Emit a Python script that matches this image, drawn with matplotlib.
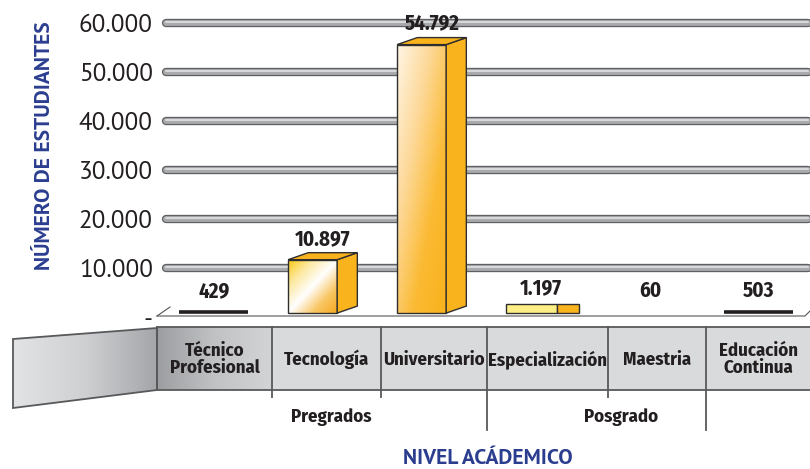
import numpy as np
import matplotlib
matplotlib.use("Agg")
import matplotlib.pyplot as plt
from matplotlib.patches import Polygon, Rectangle
from matplotlib.colors import LinearSegmentedColormap

# === datos ===
niveles = ["Técnico\nProfesional", "Tecnología", "Universitario",
           "Especialización", "Maestria", "Educación\nContinua"]
estudiantes = [429, 10897, 54792, 1197, 60, 503]
grupos = ["Pregrados", "Posgrado"]
ticks_y = [0, 10000, 20000, 30000, 40000, 50000, 60000]

# === estilo ===
AZUL = "#2b3d8f"
NEGRO = "#231f20"
NARROW = ["Fira Sans Condensed", "PT Sans Narrow", "DejaVu Sans"]
NORMAL = ["PT Sans", "Liberation Sans", "DejaVu Sans"]
W, H = 810, 469
PX = 0.0049          # pixeles por estudiante
LIFT = 800           # el piso del dibujo queda un poco arriba del cero
DX, DY = 0.185, 1430  # profundidad del efecto 3D
FRONT = 0.45
# bordes de las celdas de la banda (pixeles) y centro de los grupos
cortes = [157, 272, 381, 487, 608, 706, 810]
grupo_px = [331, 621]

def fmt(v):
    return "-" if v == 0 else f"{v:,}".replace(",", ".")

fig = plt.figure(figsize=(W / 100, H / 100), dpi=100)

# fondo en coordenadas de pixel
bg = fig.add_axes([0, 0, 1, 1])
bg.set_xlim(0, W)
bg.set_ylim(H, 0)
bg.axis("off")

ax = fig.add_axes([157 / W, (H - 317) / H, (W - 157) / W, 317 / H])
ax.set_zorder(2)
ax.patch.set_alpha(0)
ax.set_xlim(-0.523, 5.468)
ax.set_ylim(0, 317 / PX)
for s in ax.spines.values():
    s.set_visible(False)
ax.set_xticks([])
ax.set_yticks(ticks_y)
ax.set_yticklabels([fmt(v) for v in ticks_y], family=NORMAL, fontsize=18, color=NEGRO)
ax.tick_params(axis="y", length=0, pad=3)

# === lineas guia tipo tubo ===
for v in ticks_y[1:]:
    ax.plot([-0.44, 5.45], [v, v], color="#5f6063", lw=6.0, solid_capstyle="round", zorder=1)
    ax.plot([-0.44, 5.45], [v, v], color="#a9aaac", lw=4.2, solid_capstyle="round", zorder=1)
    ax.plot([-0.44, 5.45], [v + 150, v + 150], color="#d9dadc", lw=1.4, solid_capstyle="round", zorder=1)


def gradiente(x0, x1, y0, y1, colores, clip, z):
    n = 120
    u, w = np.meshgrid(np.linspace(0, 1, n), np.linspace(0, 1, n))
    t = (u + (1 - w)) / 2
    cmap = LinearSegmentedColormap.from_list("g", colores)
    im = ax.imshow(t, cmap=cmap, extent=[x0, x1, y0, y1], origin="lower",
                   aspect="auto", zorder=z, vmin=0, vmax=1)
    im.set_clip_path(clip)


frentes = {
    1: ["#fcc70e", "#fde9a0", "#ffffff", "#f9c663", "#f5a81f"],
    2: ["#fff6e6", "#fdd99a", "#fbba33", "#f9b21c"],
}

for i, v in enumerate(estudiantes):
    left = i - 0.32
    base = LIFT
    if v >= 5000:
        top = base + v
        cara = Rectangle((left, base), FRONT, v, facecolor="none",
                         edgecolor="#2e2e2e", lw=1, zorder=5)
        ax.add_patch(cara)
        gradiente(left, left + FRONT, base, top, frentes.get(i, ["#fde9a0", "#f9b21c"]), cara, 4)
        lado = Polygon([(left + FRONT, base), (left + FRONT + DX, base + DY),
                        (left + FRONT + DX, top + DY), (left + FRONT, top)],
                       closed=True, facecolor="#f9b31c", edgecolor="#2e2e2e", lw=1, zorder=5)
        techo = Polygon([(left, top), (left + FRONT, top), (left + FRONT + DX, top + DY),
                         (left + DX, top + DY)],
                        closed=True, facecolor="#f8b21b", edgecolor="#2e2e2e", lw=1, zorder=5)
        ax.add_patch(lado)
        ax.add_patch(techo)
        ytxt = top + DY + 700
    elif v >= 1000:
        alto = 1800
        ax.add_patch(Rectangle((left, base), FRONT + 0.02, alto, facecolor="#fdef86",
                               edgecolor="#2e2e2e", lw=1, zorder=5))
        ax.add_patch(Rectangle((left + FRONT + 0.02, base), DX + 0.01, alto, facecolor="#f9b31c",
                               edgecolor="#2e2e2e", lw=1, zorder=5))
        ytxt = base + alto + 1200
    elif v >= 100:
        ax.plot([left, left + FRONT + DX], [base + 300, base + 300], color="#231f20",
                lw=2.6, solid_capstyle="butt", zorder=5)
        ytxt = base + 2300
    else:
        ytxt = base + 2300
    ax.text(i, ytxt, fmt(v), ha="center", va="bottom", family=NARROW,
            fontweight="bold", fontsize=15, color=NEGRO, zorder=6)

# === piso ===
bg.plot([157, 170], [316, 307], color="#555", lw=0.8)
bg.plot([157, 805, 810], [316, 316, 311], color="#555", lw=0.8)

# === banda de categorias ===
top_b, bot_b = 327, 390
ala = Polygon([(13, 339), (157, 328), (157, 390), (13, 408)], closed=True,
              facecolor="none", edgecolor="#58595b", lw=1.3, zorder=3)
bg.add_patch(ala)
n = 100
gx = np.tile(np.linspace(0, 1, n), (4, 1))
im = bg.imshow(gx, cmap=LinearSegmentedColormap.from_list("a", ["#e2e3e5", "#cfd0d2", "#a4a6a9"]),
               extent=[13, 157, 408, 327], aspect="auto", zorder=2)
im.set_clip_path(ala)

bg.add_patch(Rectangle((157, top_b), W - 157, bot_b - top_b, facecolor="#d9dadc",
                       edgecolor="none", zorder=2))
primera = Rectangle((157, top_b), cortes[1] - 157, bot_b - top_b, facecolor="none",
                    edgecolor="none", zorder=3)
bg.add_patch(primera)
im2 = bg.imshow(gx, cmap=LinearSegmentedColormap.from_list("b", ["#9c9ea1", "#c0c2c4", "#d3d4d6"]),
                extent=[157, cortes[1], bot_b, top_b], aspect="auto", zorder=2.5)
im2.set_clip_path(primera)
bg.plot([157, W], [top_b, top_b], color="#58595b", lw=1.3, zorder=4)
bg.plot([157, W], [bot_b, bot_b], color="#58595b", lw=1.3, zorder=4)
bg.plot([157, 157], [top_b, bot_b], color="#58595b", lw=1.3, zorder=4)

for k, x in enumerate(cortes[1:-1]):
    largo = 430 if k in (2, 4) else 397
    bg.plot([x, x], [top_b, largo], color="#58595b", lw=1.3, zorder=4)

for i, nombre in enumerate(niveles):
    xc = (cortes[i] + cortes[i + 1]) / 2
    bg.text(xc, (top_b + bot_b) / 2 + 1, nombre, ha="center", va="center", family=NARROW,
            fontweight="bold", fontsize=13.5, color=NEGRO, linespacing=0.9, zorder=5)

for g, p in zip(grupos, grupo_px):
    bg.text(p, 417, g, ha="center", va="center", family=NARROW,
            fontweight="bold", fontsize=13.5, color=NEGRO)

# === titulos de ejes ===
fig.text(45 / W, 1 - 146 / H, "NÚMERO DE ESTUDIANTES", rotation=90, ha="center", va="center",
         family=NORMAL, fontweight="bold", fontsize=15.5, color=AZUL)
fig.text(488 / W, 1 - 458 / H, "NIVEL ACÁDEMICO", ha="center", va="center",
         family=NORMAL, fontweight="bold", fontsize=15.5, color=AZUL)

fig.savefig("out.png", dpi=100)
